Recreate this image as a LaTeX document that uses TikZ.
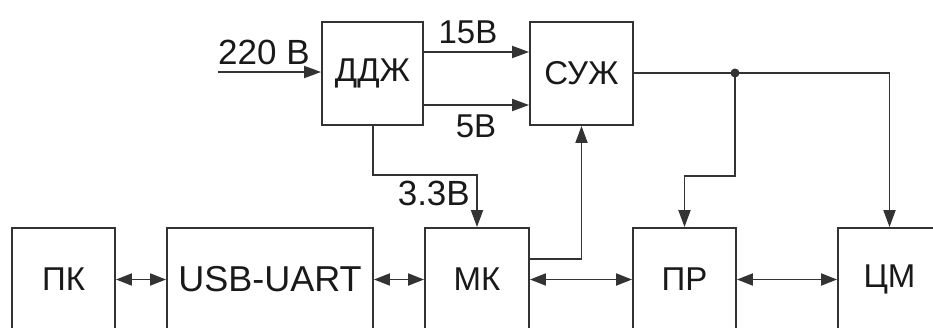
\documentclass[tikz,border=0pt]{standalone}
\usepackage{fontspec}
\setmainfont{Liberation Sans}
\usetikzlibrary{arrows.meta}
\definecolor{ln}{HTML}{333333}
\begin{document}
\begin{tikzpicture}[x=1pt,y=-1pt,
  every node/.style={text=black!90},
  blk/.style={draw=ln, line width=1.9pt, rectangle, inner sep=0pt, minimum height=103pt, font=\fontsize{33}{38}\selectfont},
  lbl/.style={anchor=base, inner sep=0pt, font=\fontsize{33}{38}\selectfont},
  conn/.style={draw=ln, line width=1.9pt},
  arr/.style={conn, -{Triangle[length=17pt,width=12pt]}},
  darr/.style={conn, {Triangle[length=16pt,width=12pt]}-{Triangle[length=16pt,width=12pt]}},
  ]
\useasboundingbox (0,0) rectangle (933,327);
% boxes
\node[blk, minimum width=101pt] (ddzh) at (372.5,73.5) {ДДЖ};
\node[blk, minimum width=103pt] (suzh) at (581.5,73.5) {СУЖ};
\node[blk, minimum width=103pt] (pk) at (63.5,279.5) {ПК};
\node[blk, minimum width=206pt, font=\fontsize{36}{40}\selectfont] (usb) at (270,279.5) {USB-UART};
\node[blk, minimum width=104pt] (mk) at (477,279.5) {МК};
\node[blk, minimum width=103pt] (pr) at (684.5,279.5) {ПР};
\node[blk, minimum width=103pt] (cm) at (889.5,279.5) {ЦМ};
% input
\coordinate (in) at (218,72);
\draw[arr] (in) -- (in -| ddzh.west);
\node[lbl, anchor=base west, font=\fontsize{35}{40}\selectfont] (t220) at (218,64) {220 В};
% 15V and 5V
\coordinate (a15) at (ddzh.east |- 0,52);
\coordinate (a5) at (ddzh.east |- 0,105);
\draw[arr] (a15) -- (a15 -| suzh.west);
\draw[arr] (a5) -- (a5 -| suzh.west);
\node[lbl] (t15) at (468,43) {15В};
\node[lbl] (t5) at (476,137) {5В};
% 3.3V
\coordinate (d33) at (373,175);
\draw[arr] (ddzh.south -| d33) -- (d33) -| (mk.north);
\node[lbl, anchor=base east, font=\fontsize{35}{40}\selectfont] (t33) at (470,205) {3.3В};
% MK -> SUZh
\coordinate (mkout) at (mk.east |- 0,259);
\draw[arr] (mkout) -| (suzh.south);
% SUZh outputs
\coordinate (sout) at (suzh.east |- 0,73);
\coordinate (dot) at (735,73);
\coordinate (brk) at (735,176);
\draw[arr] (sout) -| (cm.north);
\draw[arr] (dot) -- (brk) -| (pr.north);
\fill[ln] (dot) circle (4.5pt);
% bidirectional links
\draw[darr] (pk.east) -- (usb.west);
\draw[darr] (usb.east) -- (mk.west);
\draw[darr] (mk.east) -- (pr.west);
\draw[darr] (pr.east) -- (cm.west);
\end{tikzpicture}
\end{document}
